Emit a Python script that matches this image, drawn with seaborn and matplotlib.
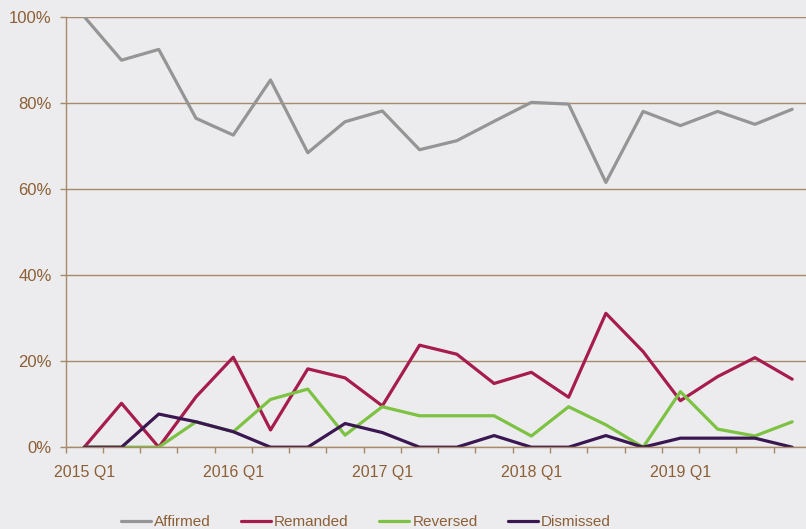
import matplotlib
import numpy as np
import pandas as pd

matplotlib.use("Agg")
import matplotlib.pyplot as plt
import seaborn as sns
from matplotlib.ticker import FixedLocator, PercentFormatter

# quarterly outcome shares, 2015 Q1 .. 2019 Q4
quarters = [f"{y} Q{q}" for y in range(2015, 2020) for q in range(1, 5)]
affirmed = [100, 89.9, 92.4, 76.4, 72.5, 85.3, 68.4, 75.6, 78.1, 69.1,
            71.2, 75.7, 80.1, 79.7, 61.5, 78.0, 74.7, 78.0, 75.0, 78.5]
remanded = [0, 10.2, 0, 11.7, 20.9, 4.0, 18.2, 16.1, 9.6, 23.7,
            21.6, 14.8, 17.4, 11.6, 31.1, 22.2, 10.8, 16.4, 20.8, 15.8]
reversed_ = [0, 0, 0, 5.9, 3.6, 11.1, 13.5, 2.8, 9.4, 7.3,
             7.3, 7.3, 2.6, 9.4, 5.2, 0, 12.9, 4.2, 2.6, 5.9]
dismissed = [0, 0, 7.7, 5.9, 3.6, 0, 0, 5.5, 3.4, 0,
             0, 2.7, 0, 0, 2.7, 0, 2.1, 2.1, 2.1, 0]

series = ["Affirmed", "Remanded", "Reversed", "Dismissed"]
colors = ["#959595", "#A61C4F", "#7DC242", "#3B1752"]

df = pd.DataFrame({
    "idx": list(range(len(quarters))) * 4,
    "share": affirmed + remanded + reversed_ + dismissed,
    "outcome": np.repeat(series, len(quarters)),
})

BG = "#ECECEE"
BROWN = "#8C5F36"
GRID = "#A68A6A"

sns.set_theme(style="white", rc={"axes.facecolor": BG, "figure.facecolor": BG})
plt.rcParams["font.family"] = ["Liberation Sans", "DejaVu Sans"]

fig = plt.figure(figsize=(8.06, 5.29), dpi=100)
ax = fig.add_axes([65.6 / 806, 1 - 447.2 / 529, 745.2 / 806, 430.5 / 529])

sns.lineplot(data=df, x="idx", y="share", hue="outcome", hue_order=series,
             palette=colors, linewidth=2.3, ax=ax, legend=False)

ax.set_xlim(-0.5, len(quarters) - 0.5)
ax.set_ylim(0, 100)
ax.set_xlabel("")
ax.set_ylabel("")

ax.set_yticks([0, 20, 40, 60, 80, 100])
ax.yaxis.set_major_formatter(PercentFormatter(decimals=0))
ax.yaxis.grid(True, color=GRID, linewidth=1.0)
ax.set_axisbelow(True)

label_pos = [i for i, q in enumerate(quarters) if q.endswith("Q1")]
ax.set_xticks(label_pos)
ax.set_xticklabels([quarters[i] for i in label_pos])
ax.xaxis.set_minor_locator(FixedLocator(np.arange(-0.5, len(quarters), 1.0)))
ax.tick_params(axis="x", which="major", length=0, pad=13, labelsize=11.5, labelcolor=BROWN)
ax.tick_params(axis="x", which="minor", length=4, width=1, color=GRID, direction="out", bottom=True)
ax.tick_params(axis="y", length=4, width=1, color=GRID, pad=6, labelsize=12,
               labelcolor=BROWN, left=True)

for side in ["top", "right"]:
    ax.spines[side].set_visible(False)
for side in ["left", "bottom"]:
    ax.spines[side].set_color(GRID)
    ax.spines[side].set_linewidth(1.0)

handles = [plt.Line2D([], [], color=c, lw=2.3) for c in colors]
fig.legend(handles, series, loc="lower center", bbox_to_anchor=(366 / 806, -0.026),
           ncol=4, frameon=False, fontsize=11, labelcolor=BROWN,
           handlelength=1.95, handletextpad=0.2, columnspacing=2.0)

fig.savefig("out.png", dpi=100, facecolor=BG)
plt.close(fig)
